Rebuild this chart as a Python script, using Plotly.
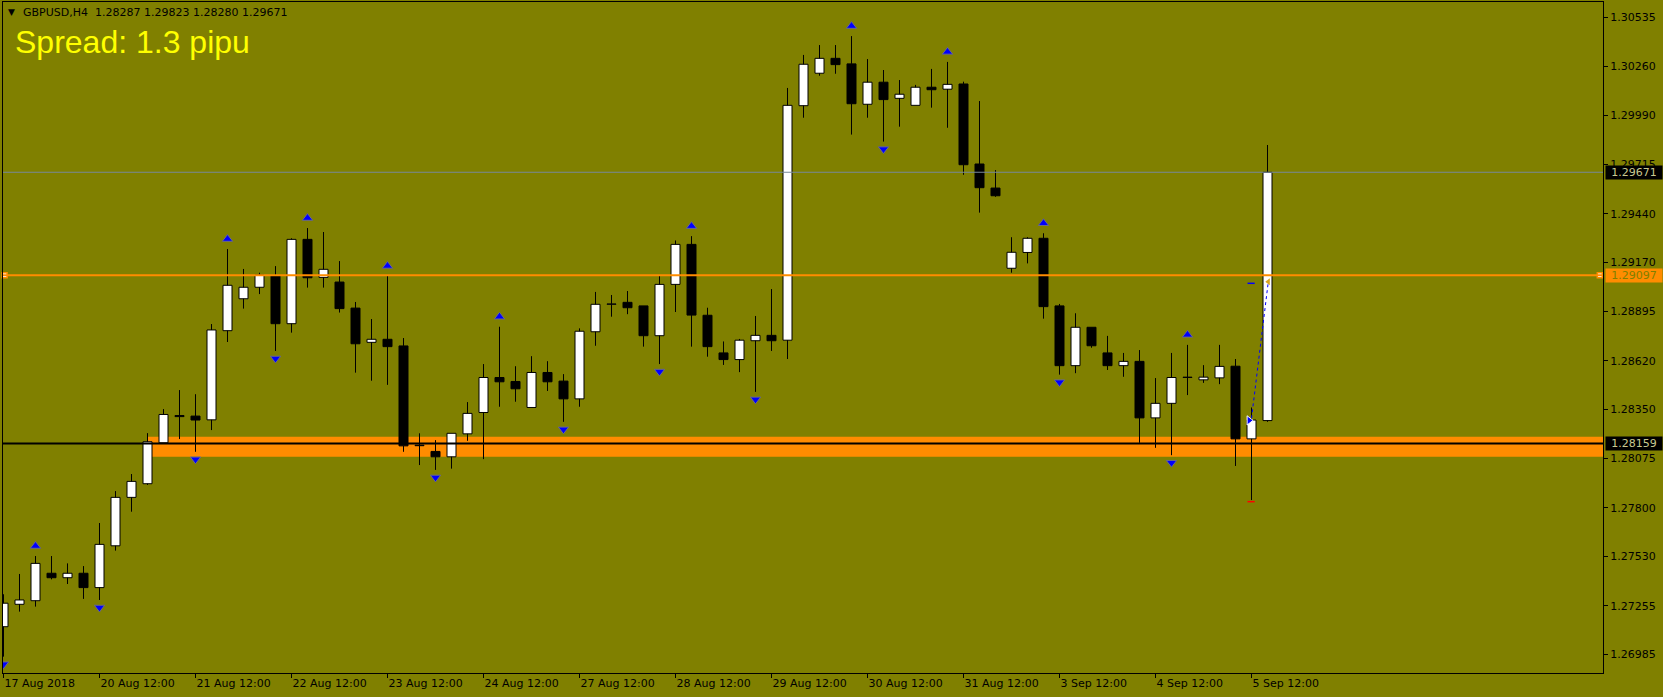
import plotly.graph_objects as go

# ---------------- data ----------------
symbol = "GBPUSD,H4"
spread_text = "Spread: 1.3 pipu"

open_ = [1.27138, 1.27263, 1.27283, 1.27436, 1.27411, 1.27436, 1.27356, 1.27589, 1.27859, 1.27935,
         1.28163, 1.28315, 1.28312, 1.28291, 1.28788, 1.28966, 1.29030, 1.29093, 1.28827, 1.29297,
         1.29085, 1.29059, 1.28914, 1.28723, 1.28740, 1.28703, 1.28150, 1.28115, 1.28085, 1.28213,
         1.28332, 1.28527, 1.28505, 1.28360, 1.28555, 1.28507, 1.28408, 1.28782, 1.28935, 1.28946,
         1.28926, 1.28760, 1.29046, 1.29269, 1.28874, 1.28664, 1.28627, 1.28732, 1.28762, 1.28735,
         1.30042, 1.30223, 1.30306, 1.30275, 1.30050, 1.30173, 1.30083, 1.30044, 1.30145, 1.30134,
         1.30163, 1.29717, 1.29583, 1.29136, 1.29224, 1.29303, 1.28926, 1.28593, 1.28807, 1.28664,
         1.28593, 1.28617, 1.28302, 1.28383, 1.28527, 1.28514, 1.28525, 1.28590, 1.28185, 1.28287]
high = [1.27319, 1.27432, 1.27532, 1.27532, 1.27491, 1.27476, 1.27716, 1.27894, 1.27989, 1.28217,
        1.28351, 1.28457, 1.28434, 1.28825, 1.29243, 1.29132, 1.29111, 1.29148, 1.29303, 1.29360,
        1.29338, 1.29176, 1.28948, 1.28853, 1.29093, 1.28747, 1.28216, 1.28178, 1.28216, 1.28390,
        1.28602, 1.28810, 1.28590, 1.28646, 1.28618, 1.28546, 1.28801, 1.29004, 1.28987, 1.29009,
        1.28926, 1.29093, 1.29291, 1.29315, 1.28916, 1.28728, 1.28742, 1.28870, 1.29020, 1.30141,
        1.30325, 1.30380, 1.30380, 1.30430, 1.30302, 1.30241, 1.30185, 1.30158, 1.30247, 1.30286,
        1.30176, 1.30068, 1.29683, 1.29309, 1.29309, 1.29331, 1.28937, 1.28885, 1.28807, 1.28759,
        1.28664, 1.28680, 1.28524, 1.28664, 1.28709, 1.28596, 1.28709, 1.28630, 1.28360, 1.29823]
low = [1.26971, 1.27222, 1.27250, 1.27402, 1.27376, 1.27293, 1.27287, 1.27562, 1.27779, 1.27928,
       1.28163, 1.28184, 1.28113, 1.28234, 1.28725, 1.28911, 1.28992, 1.28675, 1.28777, 1.29028,
       1.29028, 1.28889, 1.28554, 1.28509, 1.28486, 1.28113, 1.28039, 1.28012, 1.28019, 1.28174,
       1.28072, 1.28364, 1.28392, 1.28360, 1.28452, 1.28280, 1.28364, 1.28704, 1.28866, 1.28880,
       1.28699, 1.28602, 1.28892, 1.28699, 1.28643, 1.28597, 1.28557, 1.28447, 1.28675, 1.28630,
       1.29975, 1.30209, 1.30220, 1.29881, 1.29975, 1.29842, 1.29925, 1.30044, 1.30031, 1.29919,
       1.29657, 1.29446, 1.29534, 1.29111, 1.29163, 1.28855, 1.28543, 1.28551, 1.28693, 1.28569,
       1.28531, 1.28163, 1.28135, 1.28094, 1.28429, 1.28497, 1.28490, 1.28034, 1.27844, 1.28280]
close = [1.27269, 1.27287, 1.27491, 1.27411, 1.27436, 1.27356, 1.27597, 1.27859, 1.27948, 1.28169,
         1.28321, 1.28309, 1.28290, 1.28792, 1.29041, 1.29030, 1.29098, 1.28827, 1.29297, 1.29083,
         1.29130, 1.28911, 1.28715, 1.28740, 1.28699, 1.28146, 1.28147, 1.28085, 1.28216, 1.28327,
         1.28527, 1.28503, 1.28464, 1.28555, 1.28503, 1.28408, 1.28785, 1.28935, 1.28937, 1.28916,
         1.28760, 1.29046, 1.29269, 1.28875, 1.28699, 1.28627, 1.28735, 1.28762, 1.28732, 1.30044,
         1.30273, 1.30306, 1.30271, 1.30053, 1.30173, 1.30076, 1.30106, 1.30145, 1.30131, 1.30161,
         1.29713, 1.29585, 1.29540, 1.29225, 1.29303, 1.28922, 1.28593, 1.28807, 1.28704, 1.28593,
         1.28617, 1.28302, 1.28383, 1.28527, 1.28529, 1.28529, 1.28589, 1.28185, 1.28290, 1.29671]

tick_bars = [0, 6, 12, 18, 24, 30, 36, 42, 48, 54, 60, 66, 72, 78]
tick_labels = ["17 Aug 2018", "20 Aug 12:00", "21 Aug 12:00", "22 Aug 12:00", "23 Aug 12:00",
               "24 Aug 12:00", "27 Aug 12:00", "28 Aug 12:00", "29 Aug 12:00", "30 Aug 12:00",
               "31 Aug 12:00", "3 Sep 12:00", "4 Sep 12:00", "5 Sep 12:00"]
price_ticks = [1.30535, 1.30260, 1.29990, 1.29715, 1.29440, 1.29170, 1.28895,
               1.28620, 1.28350, 1.28075, 1.27800, 1.27530, 1.27255, 1.26985]

fractal_up = [2, 14, 19, 24, 31, 43, 53, 59, 65, 74]
fractal_down = [0, 6, 12, 17, 27, 35, 41, 47, 55, 66, 73]

bid_line = 1.29671
orange_line = 1.29097
black_line = 1.28159
zone_low, zone_high = 1.28086, 1.28197
zone_start_bar = 9

trade_open_bar, trade_open_price = 78, 1.28300
trade_close_bar, trade_close_price = 79.05, 1.29061
trade_tp, trade_sl = 1.29052, 1.27835
trade_arrow_bar = 77.85

# ---------------- layout geometry ----------------
W, H = 1663, 697
ML, MR, MT, MB = 3, 60, 2, 24
PW, PH = W - ML - MR, H - MT - MB
x_range = [-0.03125, 99.96875]
y_range = [1.26880, 1.30620]
px_per_price = PH / (y_range[1] - y_range[0])


def paper_x(px):
    return (px - ML) / PW


def paper_y(py):
    return 1 - (py - MT) / PH


BG = "#808000"
ORANGE = "#ff8c00"
FONT = "DejaVu Sans"

fig = go.Figure()

# wicks (split so they never cross the bodies)
wx, wy = [], []
n = len(open_)
for i in range(n):
    top = max(open_[i], close[i])
    bot = min(open_[i], close[i])
    wx += [i, i, None, i, i, None]
    wy += [high[i], top, None, bot, low[i], None]
fig.add_trace(go.Scatter(x=wx, y=wy, mode="lines", line=dict(color="black", width=1),
                         hoverinfo="skip", showlegend=False))

bull = [i for i in range(n) if close[i] >= open_[i]]
bear = [i for i in range(n) if close[i] < open_[i]]
for idx, fill in ((bull, "white"), (bear, "black")):
    fig.add_trace(go.Bar(
        x=idx,
        base=[min(open_[i], close[i]) for i in idx],
        y=[max(abs(close[i] - open_[i]), 0.00002) for i in idx],
        width=0.5625,
        marker=dict(color=fill, line=dict(color="black", width=1)),
        hoverinfo="skip", showlegend=False))

# fractals
off_up = 10 / px_per_price
off_dn = 7.5 / px_per_price
fig.add_trace(go.Scatter(x=fractal_up, y=[high[i] + off_up for i in fractal_up], mode="markers",
                         marker=dict(symbol="triangle-up", size=9, color="#0000ff",
                                     line=dict(color="#6a6a8a", width=1)),
                         hoverinfo="skip", showlegend=False))
fig.add_trace(go.Scatter(x=fractal_down, y=[low[i] - off_dn for i in fractal_down], mode="markers",
                         marker=dict(symbol="triangle-down", size=9, color="#0000ff",
                                     line=dict(color="#6a6a8a", width=1)),
                         hoverinfo="skip", showlegend=False))

# trade marks
fig.add_trace(go.Scatter(x=[trade_open_bar, trade_close_bar], y=[trade_open_price, trade_close_price],
                         mode="lines", line=dict(color="#0000ff", width=1, dash="dot"),
                         hoverinfo="skip", showlegend=False))
fig.add_trace(go.Scatter(x=[trade_arrow_bar], y=[trade_open_price - 0.00012], mode="markers",
                         marker=dict(symbol="triangle-right", size=8, color="#0000ff",
                                     line=dict(color="white", width=1)),
                         hoverinfo="skip", showlegend=False))
fig.add_trace(go.Scatter(x=[trade_close_bar], y=[trade_close_price], mode="markers",
                         marker=dict(symbol="triangle-left", size=6, color="#daa520"),
                         hoverinfo="skip", showlegend=False))
for lvl, col in ((trade_tp, "#0000ff"), (trade_sl, "#ff0000")):
    fig.add_trace(go.Scatter(x=[trade_open_bar - 0.25, trade_open_bar + 0.2], y=[lvl, lvl], mode="lines",
                             line=dict(color=col, width=1.5), hoverinfo="skip", showlegend=False))

# orange line end markers
fig.add_trace(go.Scatter(x=[x_range[0] + 0.1, x_range[1] - 0.2], y=[orange_line, orange_line],
                         mode="markers",
                         marker=dict(symbol="square", size=5, color="white", line=dict(color=ORANGE, width=1.5)),
                         hoverinfo="skip", showlegend=False, cliponaxis=False))

shapes = [
    dict(type="rect", xref="x", yref="y", x0=zone_start_bar, x1=x_range[1], y0=zone_low, y1=zone_high,
         fillcolor=ORANGE, line=dict(width=0), layer="below"),
    dict(type="line", xref="paper", yref="y", x0=0, x1=1, y0=bid_line, y1=bid_line,
         line=dict(color="#778899", width=1)),
    dict(type="line", xref="paper", yref="y", x0=0, x1=1, y0=orange_line, y1=orange_line,
         line=dict(color=ORANGE, width=2)),
    dict(type="line", xref="paper", yref="y", x0=0, x1=1, y0=black_line, y1=black_line,
         line=dict(color="black", width=2)),
]

annotations = [
    dict(text="▼", xref="paper", yref="paper", x=paper_x(5.5), y=paper_y(12.5), xanchor="left",
         yanchor="middle", showarrow=False, font=dict(family=FONT, size=9, color="black")),
    dict(text=symbol + "\u00a0\u00a0" + " ".join(f"{v:.5f}" for v in (open_[-1], high[-1], low[-1], close[-1])),
         xref="paper", yref="paper", x=paper_x(20.5), y=paper_y(12.8), xanchor="left", yanchor="middle",
         showarrow=False, font=dict(family=FONT, size=11, color="black")),
    dict(text=spread_text, xref="paper", yref="paper", x=paper_x(12.5), y=paper_y(42.2), xanchor="left",
         yanchor="middle", showarrow=False, font=dict(family="Liberation Sans", size=32, color="#ffff00")),
]
for val, bg, fg in ((bid_line, "black", "#c8c890"), (orange_line, ORANGE, "#808000"),
                    (black_line, "black", "#c8c890")):
    annotations.append(dict(text=f"{val:.5f}", xref="paper", yref="y", x=paper_x(1605), y=val,
                            xanchor="left", yanchor="middle", showarrow=False, bgcolor=bg,
                            width=54, height=11, borderpad=1, align="center",
                            font=dict(family=FONT, size=11, color=fg)))

fig.update_layout(
    width=W, height=H,
    margin=dict(l=ML, r=MR, t=MT, b=MB, pad=0),
    paper_bgcolor=BG, plot_bgcolor=BG,
    barmode="overlay",
    showlegend=False,
    shapes=shapes,
    annotations=annotations,
    xaxis=dict(range=x_range, tickmode="array", tickvals=tick_bars, ticktext=tick_labels,
               ticks="outside", ticklen=4, tickcolor="black", showgrid=False, zeroline=False,
               showline=True, linecolor="black", linewidth=1, mirror=True,
               ticklabelposition="outside right",
               tickfont=dict(family=FONT, size=11, color="black"), fixedrange=True),
    yaxis=dict(range=y_range, side="right", tickmode="array", tickvals=price_ticks,
               tickformat=".5f", ticks="outside", ticklen=4, tickcolor="black", showgrid=False,
               zeroline=False, showline=True, linecolor="black", linewidth=1, mirror=True,
               tickfont=dict(family=FONT, size=11, color="black"), fixedrange=True),
)

fig.write_html("out.html", config={"displayModeBar": False},
               post_script="document.body.style.margin='0';document.body.style.background='" + BG + "';")
